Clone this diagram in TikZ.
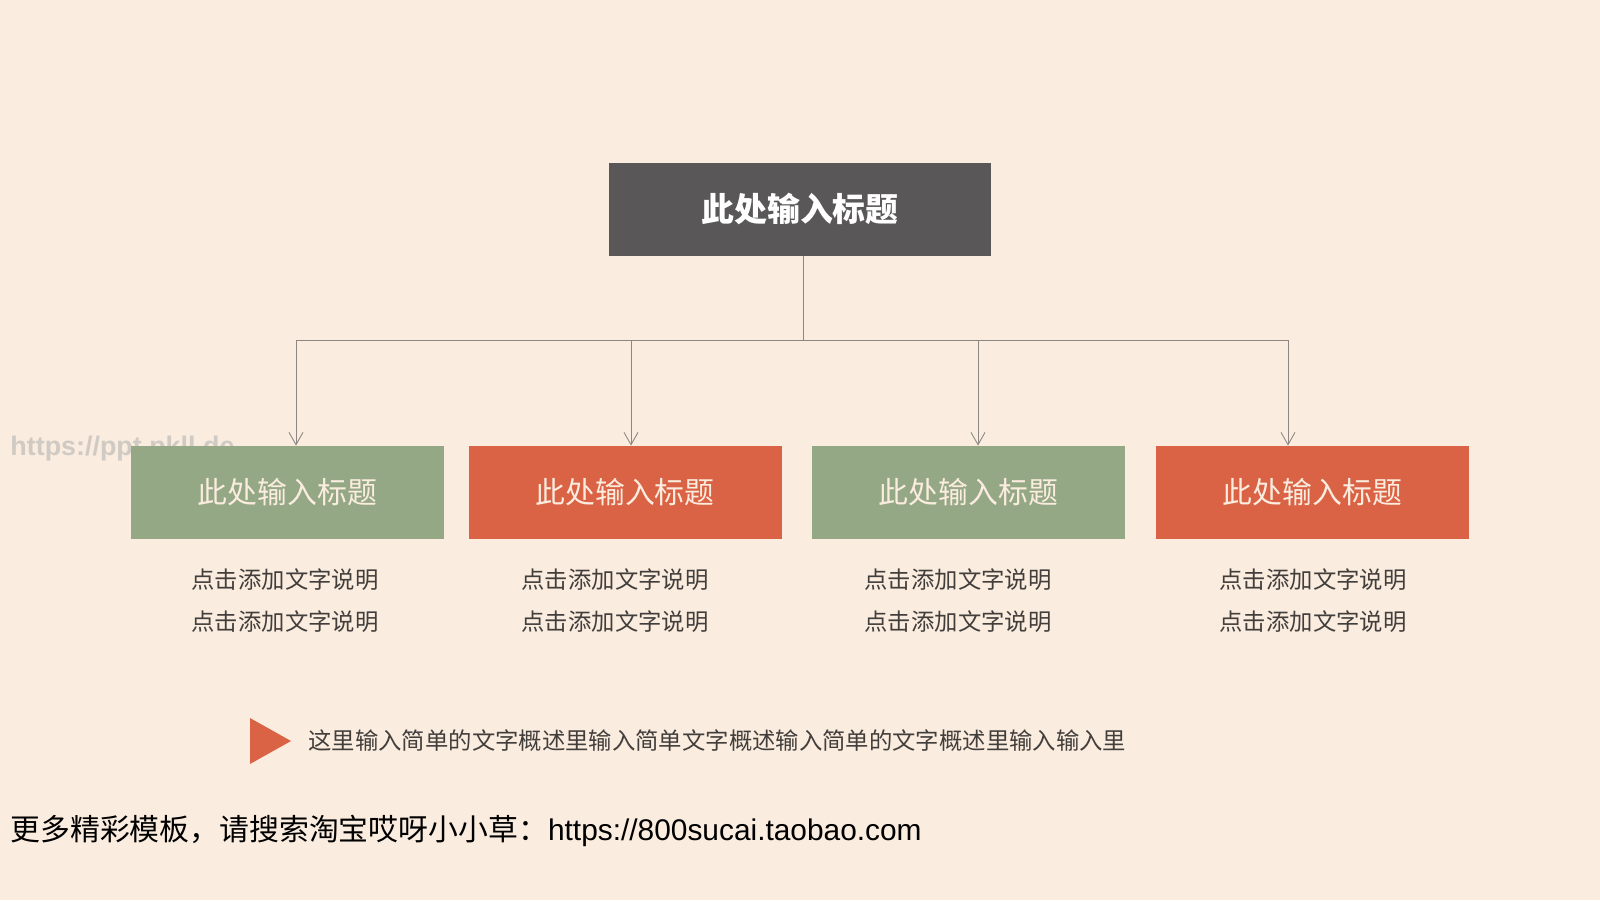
\documentclass[tikz,border=0pt]{standalone}
\usepackage{fontspec}
\setmainfont{Noto Sans CJK SC}
\newfontfamily\urlfont{Liberation Sans}
\usetikzlibrary{positioning,arrows.meta}

\definecolor{cream}{RGB}{250,236,222}
\definecolor{titlegray}{RGB}{89,87,87}
\definecolor{sagegreen}{RGB}{149,168,134}
\definecolor{brickred}{RGB}{218,99,69}
\definecolor{textgray}{RGB}{66,62,60}
\definecolor{linegray}{RGB}{140,135,130}
\definecolor{markgray}{RGB}{208,202,196}

\def\px{0.02cm}
\def\barlevel{340}

\begin{document}
\begin{tikzpicture}[x=\px,y=-\px,->,>={Straight Barb[length=7pt,width=8pt]},
        draw=linegray,line width=0.5pt]
    \tikzstyle{head box}=[rectangle,fill=titlegray,text=white,inner sep=0pt,
        minimum width=382*\px,minimum height=93*\px,font=\fontsize{18.7}{22}\selectfont\bfseries]
    \tikzstyle{sub box}=[rectangle,inner sep=0pt,text=cream,
        minimum width=313*\px,minimum height=93*\px,font=\fontsize{17}{20}\selectfont]
    \tikzstyle{note}=[inner sep=0pt,text=textgray,font=\fontsize{13.3}{16}\selectfont]

    % Background
    \fill[cream] (0,0) rectangle (1600,900);

    % Watermark
    \node[inner sep=0pt,anchor=west,text=markgray,font=\urlfont\fontsize{15.3}{18}\selectfont\bfseries]
        (mark) at (10,449) {https://ppt.pkll.de};

    % Top title
    \node[head box] (H) at (800,209) {此处输入标题};
    \coordinate (J) at (803,\barlevel);
    \draw[-] (J |- H.south) -- (J);

    % Sub boxes, their descriptions and the arrows into them
    \foreach \name / \x / \col / \ax / \dx in
        {1/287.5/sagegreen/296/285, 2/625/brickred/631/615,
         3/968.5/sagegreen/978/958, 4/1312.5/brickred/1288/1313}
    {
        \node[sub box,fill=\col] (S-\name) at (\x,492.5) {此处输入标题};
        \node[note] (D-\name-1) at (\dx,580) {点击添加文字说明};
        \node[note] (D-\name-2) at (\dx,622) {点击添加文字说明};
        \coordinate (A-\name) at (\ax,\barlevel);
        \draw (A-\name) -- (A-\name |- S-\name.north);
    }
    \draw[-] (A-1) -- (A-4);

    % Summary line
    \fill[brickred] (250,718) -- (291,741) -- (250,764) -- cycle;
    \node[inner sep=0pt,anchor=west,text=textgray,font=\fontsize{13.3}{16}\selectfont]
        (sum) at (308,741) {这里输入简单的文字概述里输入简单文字概述输入简单的文字概述里输入输入里};

    % Footer
    \node[inner sep=0pt,anchor=west,text=black,font=\fontsize{17}{20}\selectfont]
        (foot) at (10,831) {更多精彩模板，请搜索淘宝哎呀小小草：{\urlfont https://800sucai.taobao.com}};
\end{tikzpicture}
\end{document}
